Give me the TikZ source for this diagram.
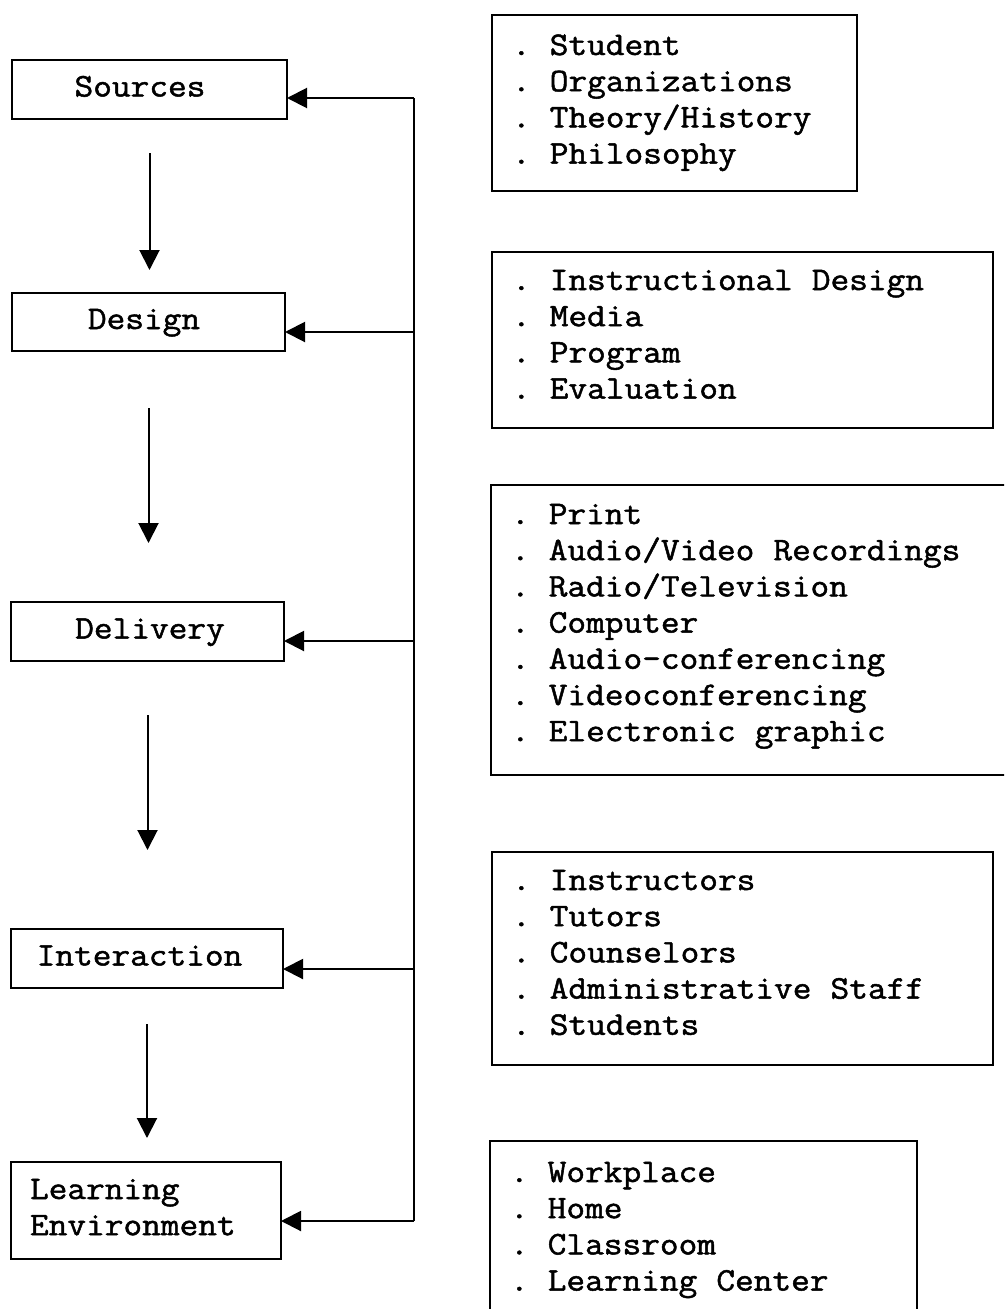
\documentclass[tikz,border=0pt]{standalone}
\usepackage{fontspec}
\setmonofont{Latin Modern Mono}[FakeStretch=1.1, FakeBold=1.5]
\usetikzlibrary{arrows.meta}
\newcommand\boxfont{\ttfamily\fontsize{33pt}{36.2pt}\selectfont}
\newcommand\monospaces{\spaceskip 19.06pt plus 0pt minus 0pt\xspaceskip 19.06pt plus 0pt minus 0pt\relax}
\begin{document}
\begin{tikzpicture}[x=1pt,y=-1pt,
  every node/.style={font=\boxfont, execute at begin node=\monospaces},
  lbox/.style={draw, line width=2pt, anchor=north west, inner sep=0pt, outer sep=0pt, text height=20pt, text depth=6pt},
  rbox/.style={draw, line width=2pt, anchor=north west, inner xsep=20pt, inner ysep=0pt, outer sep=0pt, align=left},
  link/.style={line width=2pt, -{Triangle[length=20pt,width=20pt]}},
  bus/.style={line width=2pt}]
\path[use as bounding box, clip] (0,0) rectangle (1004,1309);
% left column
\node[lbox, minimum width=275pt, minimum height=59pt] (src) at (12,60) {Sources\hspace*{19pt}};
\node[lbox, minimum width=273pt, minimum height=58pt] (des) at (12,293) {Design\hspace*{9pt}};
\node[lbox, minimum width=273pt, minimum height=59pt] (del) at (11,602) {\hspace*{5pt}Delivery};
\node[lbox, minimum width=272pt, minimum height=59pt] (int) at (11,929) {Interaction\hspace*{15pt}};
\node[lbox, align=left, text width=232pt, inner xsep=19pt, minimum width=270pt, minimum height=97pt, text height=37pt, text depth=60pt] (le) at (11,1162) {Learning\\Environment};
% right column
\node[rbox, text width=325pt, minimum width=365pt, text height=40pt, text depth=136pt] (b1) at (492,15) {. Student\\. Organizations\\. Theory/History\\. Philosophy};
\node[rbox, text width=461pt, minimum width=501pt, text height=38pt, text depth=138pt] (b2) at (492,252) {. Instructional Design\\. Media\\. Program\\. Evaluation};
\node[rbox, text width=490pt, minimum width=530pt, text height=39pt, text depth=251pt] (b3) at (491,485) {. Print\\. Audio/Video Recordings\\. Radio/Television\\. Computer\\. Audio-conferencing\\. Videoconferencing\\. Electronic graphic};
\node[rbox, text width=461pt, minimum width=501pt, text height=38pt, text depth=175pt] (b4) at (492,852) {. Instructors\\. Tutors\\. Counselors\\. Administrative Staff\\. Students};
\node[rbox, text width=387pt, minimum width=427pt, text height=41pt, text depth=139pt] (b5) at (490,1141) {. Workplace\\. Home\\. Classroom\\. Learning Center};
% down arrows
\draw[link, shorten <=34pt, shorten >=23pt] (src.south) -- (src.south |- des.north);
\draw[link, shorten <=57pt, shorten >=59pt] (des.south) -- (des.south |- del.north);
\draw[link, shorten <=54pt, shorten >=79pt] (del.south) -- (del.south |- int.north);
\draw[link, shorten <=36pt, shorten >=24pt] (int.south) -- (int.south |- le.north);
% feedback bus
\coordinate (j1) at (414,98);
\coordinate (j2) at (414,332);
\coordinate (j3) at (414,641);
\coordinate (j4) at (414,969);
\coordinate (j5) at (414,1221);
\draw[bus] (j1) -- (j5);
\draw[link] (j1) -- (j1 -| src.east);
\draw[link] (j2) -- (j2 -| des.east);
\draw[link] (j3) -- (j3 -| del.east);
\draw[link] (j4) -- (j4 -| int.east);
\draw[link] (j5) -- (j5 -| le.east);
\end{tikzpicture}
\end{document}
